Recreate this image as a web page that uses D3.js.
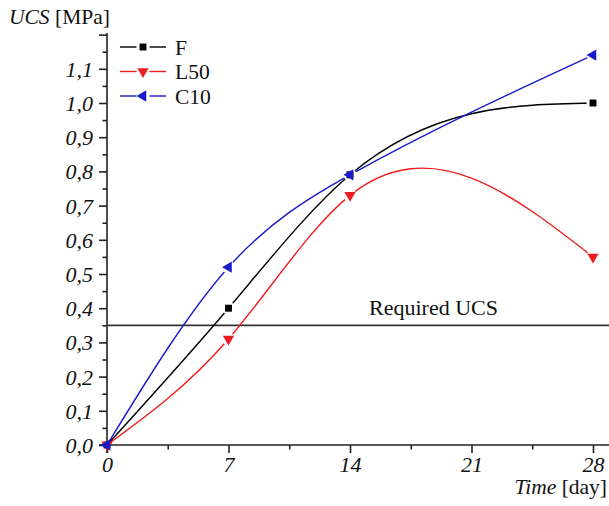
<!DOCTYPE html>
<html>
<head>
<meta charset="utf-8">
<script src="https://cdn.jsdelivr.net/npm/d3@7"></script>
<style>
  html, body { margin: 0; padding: 0; background: #fff; }
  svg { display: block; }
</style>
</head>
<body>
<svg id="chart" width="609" height="506"></svg>
<script>
// ---- data ----
const days = [0, 7, 14, 28];
const seriesNames = ["F", "L50", "C10"];
const valuesF = [0, 0.40, 0.79, 1.00];
const valuesL50 = [0, 0.31, 0.73, 0.55];
const valuesC10 = [0, 0.52, 0.79, 1.14];
const requiredUCS = 0.35;
const xTicks = [0, 7, 14, 21, 28];
const xMinorTicks = [3.5, 10.5, 17.5, 24.5];
const yTicks = [0, 0.1, 0.2, 0.3, 0.4, 0.5, 0.6, 0.7, 0.8, 0.9, 1.0, 1.1, 1.2];
const yTickLabels = ["0,0","0,1","0,2","0,3","0,4","0,5","0,6","0,7","0,8","0,9","1,0","1,1",""];
const yMinorTicks = [0.05,0.15,0.25,0.35,0.45,0.55,0.65,0.75,0.85,0.95,1.05,1.15];

const FONT = "'Liberation Serif', 'Times New Roman', 'DejaVu Serif', serif";

const series = [
  { name: seriesNames[0], values: valuesF,   color: "#000000", symbol: d3.symbolSquare,   rotate: 0,   size: 48 },
  { name: seriesNames[1], values: valuesL50, color: "#ee1c1c", symbol: d3.symbolTriangle, rotate: 180, size: 55 },
  { name: seriesNames[2], values: valuesC10, color: "#1a1acc", symbol: d3.symbolTriangle, rotate: -90, size: 55 }
];

// natural cubic spline y(x) as a d3 curve
function curveNaturalX(context) {
  let xs, ys;
  return {
    areaStart() {}, areaEnd() {},
    lineStart() { xs = []; ys = []; },
    point(x, y) { xs.push(+x); ys.push(+y); },
    lineEnd() {
      const n = xs.length;
      if (!n) return;
      context.moveTo(xs[0], ys[0]);
      if (n < 3) { for (let i = 1; i < n; i++) context.lineTo(xs[i], ys[i]); return; }
      const h = [];
      for (let i = 0; i < n - 1; i++) h.push(xs[i + 1] - xs[i]);
      const m = n - 2, a = [], b = [], c = [], d = [];
      for (let i = 1; i <= m; i++) {
        a.push(h[i - 1]); b.push(2 * (h[i - 1] + h[i])); c.push(h[i]);
        d.push(6 * ((ys[i + 1] - ys[i]) / h[i] - (ys[i] - ys[i - 1]) / h[i - 1]));
      }
      for (let i = 1; i < m; i++) {
        const w = a[i] / b[i - 1];
        b[i] -= w * c[i - 1]; d[i] -= w * d[i - 1];
      }
      const M = new Array(n).fill(0);
      for (let i = m - 1; i >= 0; i--) {
        M[i + 1] = (d[i] - (i < m - 1 ? c[i] * M[i + 2] : 0)) / b[i];
      }
      for (let i = 0; i < n - 1; i++) {
        const hi = h[i], s = (ys[i + 1] - ys[i]) / hi;
        const d0 = s - hi * (2 * M[i] + M[i + 1]) / 6;
        const d1 = s + hi * (M[i] + 2 * M[i + 1]) / 6;
        context.bezierCurveTo(xs[i] + hi / 3, ys[i] + d0 * hi / 3,
                              xs[i + 1] - hi / 3, ys[i + 1] - d1 * hi / 3,
                              xs[i + 1], ys[i + 1]);
      }
    }
  };
}

const svg = d3.select("#chart");
const W = 609, H = 506;
const x = d3.scaleLinear().domain([0, 28]).range([107, 593]);
const y = d3.scaleLinear().domain([0, 1.2]).range([445, 34.6]);

const axisColor = "#222";
const textColor = "#111";
const gapR = 6.5;

// ---- Y axis ----
const gy = svg.append("g").attr("transform", `translate(${x(0)},0)`);
gy.call(d3.axisLeft(y).tickValues(yTicks).tickSize(8).tickSizeOuter(0)
  .tickFormat((d, i) => yTickLabels[i]));
gy.append("g").call(d3.axisLeft(y).tickValues(yMinorTicks).tickSize(4.5).tickFormat(""))
  .select(".domain").remove();
gy.selectAll(".domain").attr("d", `M0,${y(0) + 8}V${y(1.2) - 1.5}`);
gy.selectAll("line, path").attr("stroke", axisColor).attr("stroke-width", 1.6);
gy.selectAll("text").style("font-family", FONT).style("font-size", "22px").style("font-style", "italic")
  .attr("x", -14).attr("dy", "0.34em").attr("fill", textColor);

// ---- X axis ----
const gx = svg.append("g").attr("transform", `translate(0,${y(0)})`);
gx.call(d3.axisBottom(x).tickValues(xTicks).tickSize(8).tickSizeOuter(0).tickFormat(d3.format("d")));
gx.append("g").call(d3.axisBottom(x).tickValues(xMinorTicks).tickSize(4.5).tickFormat(""))
  .select(".domain").remove();
gx.selectAll(".domain").attr("d", `M${x(0) - 8},0H${W}`);
gx.selectAll("line, path").attr("stroke", axisColor).attr("stroke-width", 1.6);
gx.selectAll("text").style("font-family", FONT).style("font-size", "22px").style("font-style", "italic")
  .attr("y", 11).attr("dy", "0.71em").attr("fill", textColor);

// ---- axis titles ----
const yt = svg.append("text").attr("x", 9).attr("y", 24)
  .style("font-family", FONT).style("font-size", "21.5px").attr("fill", textColor);
yt.append("tspan").style("font-style", "italic").text("UCS");
yt.append("tspan").text(" [MPa]");
const xt = svg.append("text").attr("x", 607).attr("y", 494).attr("text-anchor", "end")
  .style("font-family", FONT).style("font-size", "21.5px").attr("fill", textColor);
xt.append("tspan").style("font-style", "italic").text("Time");
xt.append("tspan").text(" [day]");

// ---- required UCS line ----
svg.append("line").attr("x1", x(0)).attr("x2", W)
  .attr("y1", y(requiredUCS)).attr("y2", y(requiredUCS))
  .attr("stroke", "#333").attr("stroke-width", 1.8);
svg.append("text").attr("x", 369).attr("y", 315)
  .style("font-family", FONT).style("font-size", "22px").attr("fill", textColor).text("Required UCS");

// ---- series ----
const defs = svg.append("defs");
const line = d3.line().x(d => x(d[0])).y(d => y(d[1])).curve(curveNaturalX);
series.forEach((s, si) => {
  const pts = days.map((d, i) => [d, s.values[i]]);
  const mask = defs.append("mask").attr("id", "gap" + si).attr("maskUnits", "userSpaceOnUse")
    .attr("x", 0).attr("y", 0).attr("width", W).attr("height", H);
  mask.append("rect").attr("width", W).attr("height", H).attr("fill", "#fff");
  mask.selectAll("circle").data(pts.slice(1)).join("circle")
    .attr("cx", d => x(d[0])).attr("cy", d => y(d[1])).attr("r", gapR).attr("fill", "#000");
  svg.append("path").attr("d", line(pts)).attr("fill", "none")
    .attr("stroke", s.color).attr("stroke-width", 1.4).attr("mask", `url(#gap${si})`);
});
series.forEach(s => {
  const sym = d3.symbol().type(s.symbol).size(s.size);
  svg.append("g").selectAll("path").data(days.map((d, i) => [d, s.values[i]])).join("path")
    .attr("d", sym)
    .attr("transform", d => `translate(${x(d[0])},${y(d[1])}) rotate(${s.rotate})`)
    .attr("fill", s.color);
});

// ---- legend ----
const legend = svg.append("g");
series.forEach((s, i) => {
  const ly = 47 + i * 24.5;
  [[120, 143 - gapR], [143 + gapR, 166]].forEach(([a, b]) => {
    legend.append("line").attr("x1", a).attr("x2", b).attr("y1", ly).attr("y2", ly)
      .attr("stroke", s.color).attr("stroke-width", 1.4);
  });
  legend.append("path").attr("d", d3.symbol().type(s.symbol).size(s.size))
    .attr("transform", `translate(143,${ly}) rotate(${s.rotate})`).attr("fill", s.color);
  legend.append("text").attr("x", 175).attr("y", ly).attr("dy", "0.35em")
    .style("font-family", FONT).style("font-size", "21.5px").attr("fill", textColor).text(s.name);
});
</script>
</body>
</html>
